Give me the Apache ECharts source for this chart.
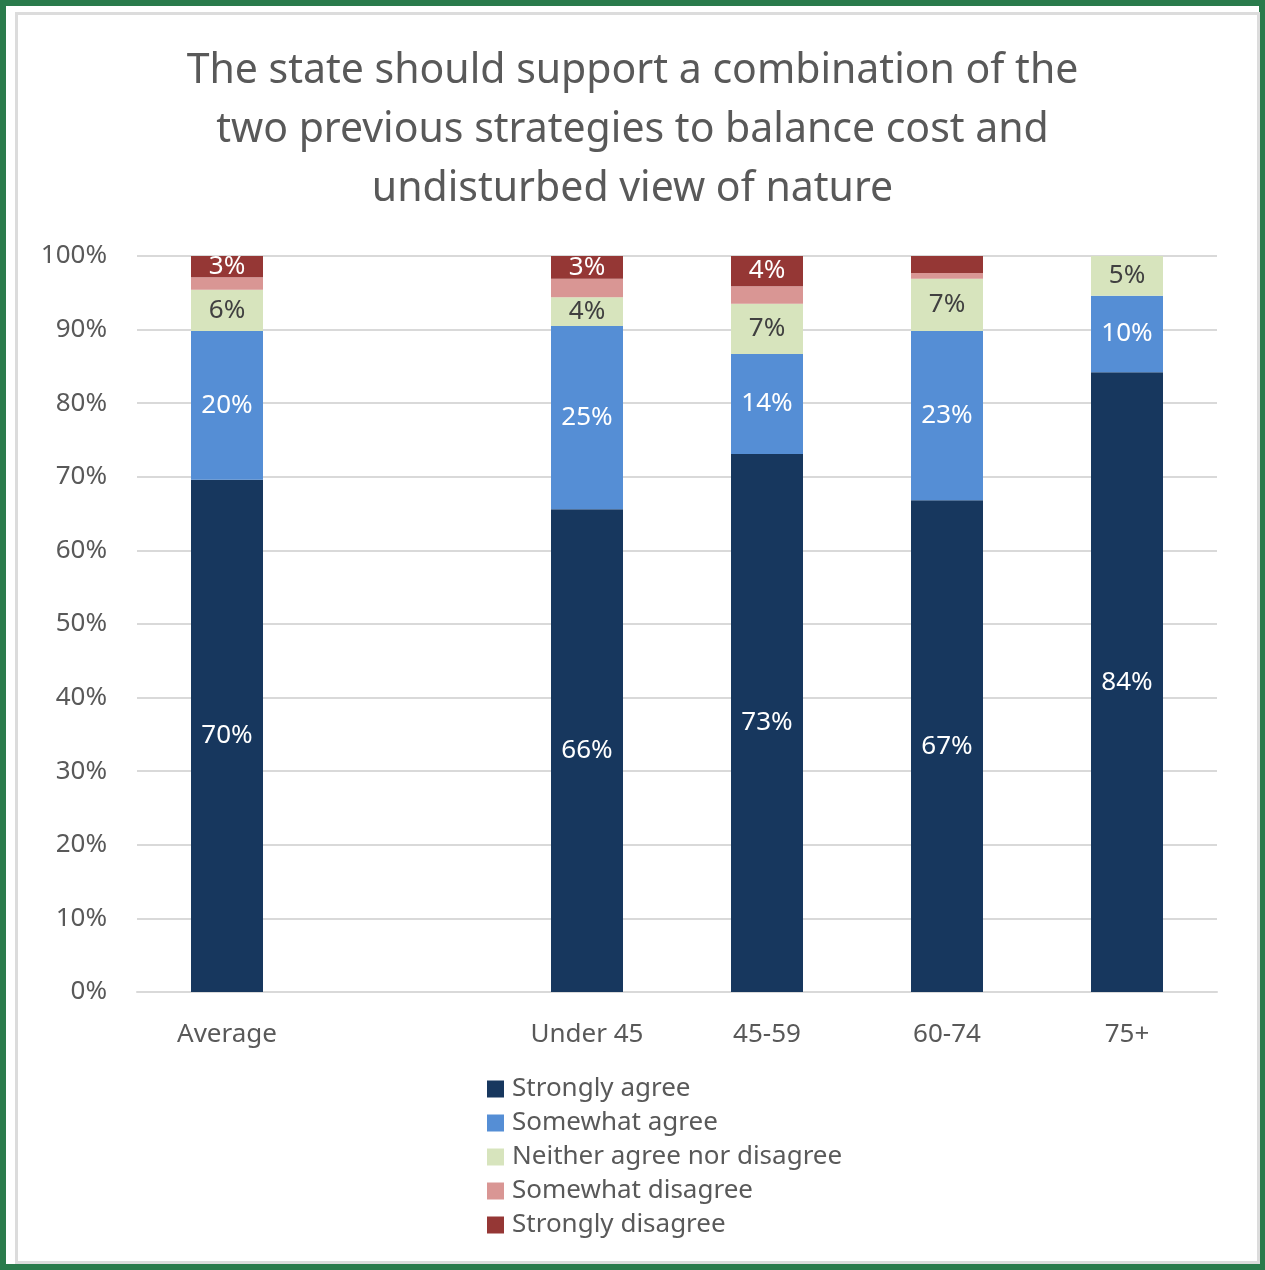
<!DOCTYPE html>
<html><head><meta charset="utf-8">
<script src="https://cdn.jsdelivr.net/npm/echarts@6/dist/echarts.min.js"></script>
<style>
html,body{margin:0;padding:0;background:#fff;}
#frame{position:absolute;left:0;top:0;width:1265px;height:1270px;box-sizing:border-box;border:6px solid #2a7b4c;}
#inner{position:absolute;left:9px;top:6px;width:1245px;height:1252px;box-sizing:border-box;border:3px solid #dcdcdc;}
#chart{position:absolute;left:0;top:0;width:1265px;height:1270px;}
</style></head>
<body>
<div id="frame"><div id="inner"></div></div>
<div id="chart"></div>
<script>
const categories = ['Average', '', 'Under 45', '45-59', '60-74', '75+'];
const stronglyAgree    = [69.6, '-', 65.6, 73.1, 66.8, 84.2];
const somewhatAgree    = [20.2, '-', 24.9, 13.6, 23.0, 10.4];
const neither          = [5.6, '-', 3.9, 6.8, 7.1, 5.4];
const somewhatDisagree = [1.7, '-', 2.5, 2.4, 0.8, 0];
const stronglyDisagree = [2.9, '-', 3.1, 4.1, 2.3, 0];
const yTicks = [0, 10, 20, 30, 40, 50, 60, 70, 80, 90, 100];

const FONT = '"Noto Sans", "Open Sans", sans-serif';
const chart = echarts.init(document.getElementById('chart'), null, {renderer: 'canvas'});
function mk(name, data, color, labelColor, showLabel) {
  return {
    name: name, type: 'bar', stack: 'all', data: data, barWidth: 72,
    itemStyle: {color: color},
    label: {
      show: showLabel, position: 'inside', color: labelColor,
      fontFamily: FONT, fontSize: 26,
      formatter: p => (p.value >= 2.5 ? Math.round(p.value) + '%' : '')
    },
    emphasis: {disabled: true}
  };
}
chart.setOption({
  animation: false,
  backgroundColor: 'transparent',
  title: {
    text: 'The state should support a combination of the\ntwo previous strategies to balance cost and\nundisturbed view of nature',
    left: 'center', top: 37,
    textStyle: {fontFamily: FONT, fontSize: 41, fontWeight: 'normal', color: '#595959', lineHeight: 59}
  },
  grid: {left: 137, right: 48, top: 256, bottom: 278, containLabel: false},
  xAxis: {
    type: 'category', data: categories,
    axisLine: {show: true, lineStyle: {color: '#d9d9d9', width: 2}},
    axisTick: {show: false},
    axisLabel: {fontFamily: FONT, fontSize: 26, color: '#595959', margin: 30}
  },
  yAxis: {
    type: 'value', min: 0, max: 100, interval: 10,
    axisLine: {show: false}, axisTick: {show: false},
    splitLine: {lineStyle: {color: '#d9d9d9', width: 2}},
    axisLabel: {fontFamily: FONT, fontSize: 26, color: '#595959', margin: 30,
      formatter: v => yTicks.includes(v) ? v + '%' : ''}
  },
  legend: {
    orient: 'vertical', left: 482, top: 1071, itemGap: 8,
    itemWidth: 17, itemHeight: 17, icon: 'rect',
    textStyle: {fontFamily: FONT, fontSize: 26, lineHeight: 26, color: '#595959', padding: [0, 0, 0, 3]},
    data: ['Strongly agree', 'Somewhat agree', 'Neither agree nor disagree', 'Somewhat disagree', 'Strongly disagree']
  },
  series: [
    mk('Strongly agree', stronglyAgree, '#17375e', '#ffffff', true),
    mk('Somewhat agree', somewhatAgree, '#558ed5', '#ffffff', true),
    mk('Neither agree nor disagree', neither, '#d7e4bd', '#404040', true),
    mk('Somewhat disagree', somewhatDisagree, '#d99694', '#ffffff', false),
    mk('Strongly disagree', stronglyDisagree, '#953735', '#ffffff', true)
  ]
});
</script>
</body></html>
